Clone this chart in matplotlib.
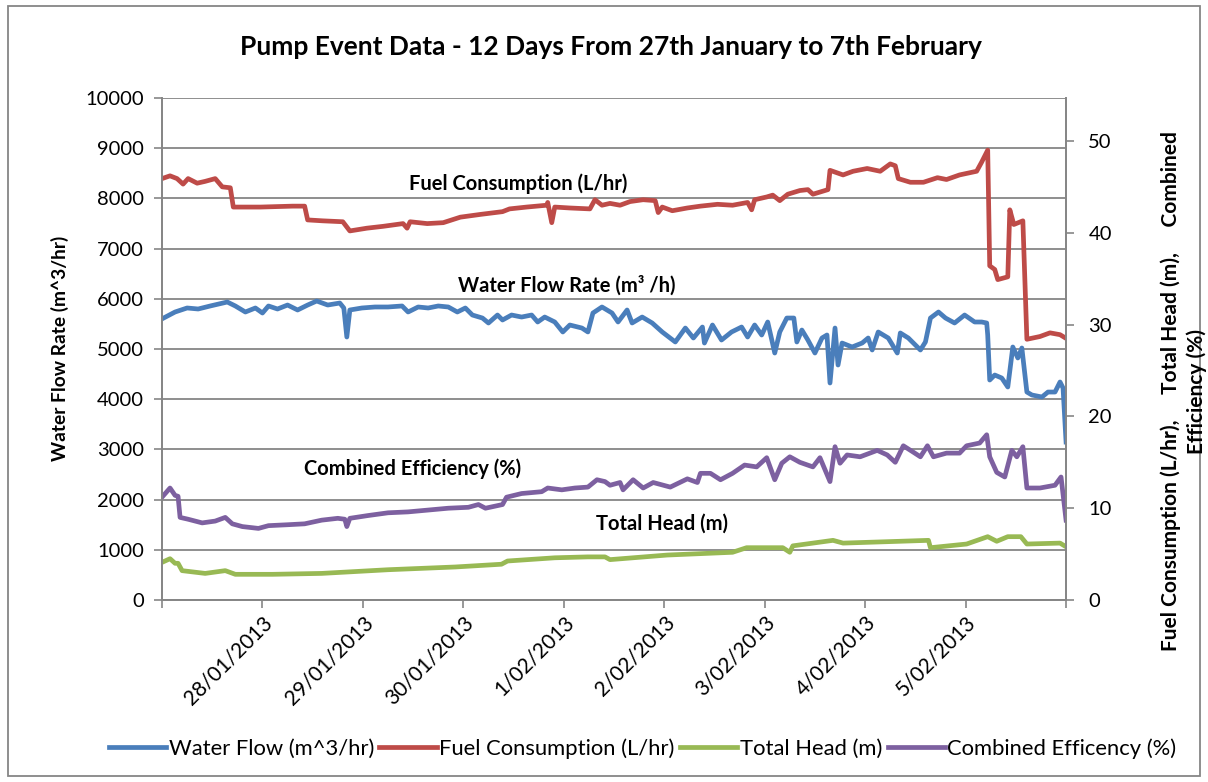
import matplotlib
matplotlib.use("Agg")
import matplotlib.pyplot as plt
from matplotlib.patches import Rectangle

plt.rcParams['font.family'] = ['Lato', 'DejaVu Sans']

# ---- data (x in days from 27/01/2013 on the category axis) ----
tick_labels = ['', '28/01/2013', '29/01/2013', '30/01/2013', '1/02/2013',
               '2/02/2013', '3/02/2013', '4/02/2013', '5/02/2013', '']

flow_x = [0.00, 0.13, 0.25, 0.36, 0.48, 0.65, 0.73, 0.83, 0.93, 1.00, 1.06, 1.15, 1.25, 1.35,
          1.45, 1.54, 1.65, 1.77, 1.81, 1.84, 1.87, 1.99, 2.12, 2.25, 2.39, 2.45, 2.55, 2.65,
          2.75, 2.85, 2.94, 3.02, 3.09, 3.19, 3.25, 3.34, 3.39, 3.48, 3.58, 3.68, 3.74, 3.81,
          3.91, 3.99, 4.06, 4.18, 4.24, 4.29, 4.38, 4.48, 4.54, 4.63, 4.68, 4.78, 4.88, 4.98,
          5.11, 5.21, 5.29, 5.38, 5.40, 5.48, 5.57, 5.67, 5.77, 5.83, 5.90, 5.97, 6.03, 6.10,
          6.15, 6.22, 6.29, 6.32, 6.37, 6.43, 6.50, 6.57, 6.62, 6.65, 6.70, 6.73, 6.77, 6.87,
          6.97, 7.03, 7.07, 7.13, 7.23, 7.32, 7.35, 7.43, 7.55, 7.60, 7.65, 7.73, 7.80, 7.89,
          7.99, 8.09, 8.16, 8.21, 8.22, 8.24, 8.29, 8.36, 8.42, 8.47, 8.52, 8.56, 8.61, 8.66,
          8.76, 8.82, 8.89, 8.94, 8.97, 9.00]
flow_y = [5600, 5737, 5817, 5797, 5857, 5936, 5857, 5737, 5817, 5717, 5857, 5797, 5876, 5777,
          5876, 5956, 5876, 5916, 5817, 5239, 5777, 5817, 5837, 5837, 5857, 5737, 5837, 5817,
          5857, 5837, 5737, 5817, 5677, 5617, 5518, 5677, 5578, 5677, 5637, 5677, 5538, 5637,
          5538, 5339, 5478, 5418, 5339, 5717, 5837, 5717, 5538, 5777, 5518, 5637, 5518, 5339,
          5140, 5418, 5219, 5438, 5119, 5478, 5179, 5339, 5438, 5239, 5478, 5279, 5538, 4920,
          5339, 5617, 5617, 5140, 5378, 5179, 4920, 5219, 5279, 4323, 5418, 4681, 5119, 5040,
          5119, 5219, 4980, 5339, 5219, 4920, 5319, 5219, 4980, 5140, 5617, 5737, 5617, 5518,
          5677, 5538, 5538, 5518, 5279, 4382, 4482, 4422, 4243, 5040, 4821, 5020, 4143, 4084,
          4044, 4143, 4143, 4343, 4223, 3147]

fuel_x = [0.00, 0.08, 0.15, 0.21, 0.26, 0.35, 0.43, 0.53, 0.60, 0.68, 0.71, 0.98, 1.30, 1.42,
          1.45, 1.60, 1.80, 1.87, 2.04, 2.20, 2.40, 2.44, 2.47, 2.64, 2.80, 2.97, 3.17, 3.39,
          3.46, 3.63, 3.83, 3.84, 3.88, 3.91, 4.06, 4.26, 4.31, 4.38, 4.46, 4.56, 4.66, 4.79,
          4.91, 4.94, 4.98, 5.08, 5.23, 5.36, 5.53, 5.68, 5.83, 5.87, 5.90, 6.02, 6.08, 6.15,
          6.23, 6.35, 6.43, 6.48, 6.63, 6.65, 6.78, 6.88, 7.02, 7.15, 7.25, 7.30, 7.33, 7.45,
          7.58, 7.72, 7.81, 7.94, 8.11, 8.16, 8.22, 8.24, 8.29, 8.32, 8.42, 8.44, 8.48, 8.57,
          8.61, 8.74, 8.84, 8.94, 9.00]
fuel_y = [45.9, 46.2, 45.9, 45.3, 45.9, 45.4, 45.6, 45.9, 45.0, 44.9, 42.8, 42.8, 42.9, 42.9,
          41.4, 41.3, 41.2, 40.2, 40.5, 40.7, 41.0, 40.5, 41.2, 41.0, 41.1, 41.7, 42.0, 42.3,
          42.6, 42.8, 43.0, 43.3, 41.1, 42.8, 42.7, 42.6, 43.6, 43.0, 43.2, 43.0, 43.4, 43.6,
          43.5, 42.2, 42.8, 42.4, 42.7, 42.9, 43.1, 43.0, 43.3, 42.5, 43.6, 43.9, 44.1, 43.5,
          44.2, 44.6, 44.7, 44.2, 44.7, 46.8, 46.3, 46.7, 47.0, 46.7, 47.5, 47.3, 45.9, 45.5,
          45.5, 46.0, 45.8, 46.3, 46.7, 47.7, 49.0, 36.4, 36.0, 34.9, 35.2, 42.5, 40.9, 41.3,
          28.4, 28.7, 29.1, 28.9, 28.5]

eff_x = [0.00, 0.08, 0.13, 0.16, 0.18, 0.26, 0.40, 0.53, 0.63, 0.70, 0.80, 0.96, 1.06, 1.25,
         1.42, 1.59, 1.75, 1.82, 1.84, 1.87, 2.05, 2.25, 2.45, 2.65, 2.85, 3.05, 3.15, 3.22,
         3.39, 3.43, 3.58, 3.78, 3.84, 3.98, 4.11, 4.24, 4.33, 4.41, 4.46, 4.56, 4.59, 4.69,
         4.79, 4.89, 5.06, 5.23, 5.33, 5.36, 5.46, 5.56, 5.68, 5.80, 5.92, 6.02, 6.10, 6.17,
         6.25, 6.35, 6.48, 6.55, 6.65, 6.70, 6.75, 6.82, 6.95, 7.12, 7.22, 7.30, 7.38, 7.48,
         7.55, 7.62, 7.68, 7.81, 7.94, 8.01, 8.14, 8.21, 8.24, 8.31, 8.39, 8.46, 8.51, 8.57,
         8.61, 8.74, 8.89, 8.95, 9.00]
eff_y = [11.2, 12.2, 11.4, 11.3, 9.0, 8.8, 8.4, 8.6, 9.0, 8.3, 8.0, 7.8, 8.1, 8.2,
         8.3, 8.7, 8.9, 8.8, 8.0, 8.9, 9.2, 9.5, 9.6, 9.8, 10.0, 10.1, 10.4, 10.0,
         10.4, 11.2, 11.6, 11.8, 12.2, 12.0, 12.2, 12.3, 13.1, 12.9, 12.5, 12.8, 12.0, 13.1,
         12.2, 12.8, 12.3, 13.2, 12.8, 13.8, 13.8, 13.1, 13.8, 14.7, 14.5, 15.5, 13.1, 14.9,
         15.6, 15.0, 14.5, 15.5, 12.9, 16.7, 14.9, 15.8, 15.6, 16.3, 15.8, 15.0, 16.8, 16.1,
         15.6, 16.8, 15.6, 16.0, 16.0, 16.8, 17.1, 18.0, 15.6, 13.9, 13.4, 16.3, 15.6, 16.7,
         12.2, 12.2, 12.5, 13.4, 8.7]

head_x = [0.00, 0.08, 0.13, 0.16, 0.20, 0.43, 0.63, 0.73, 1.10, 1.59, 2.25, 2.92, 3.38, 3.44,
          3.91, 4.24, 4.41, 4.46, 5.03, 5.68, 5.82, 6.18, 6.25, 6.28, 6.68, 6.78, 7.35, 7.63,
          7.65, 8.01, 8.22, 8.31, 8.42, 8.55, 8.61, 8.94, 9.00]
head_y = [4.1, 4.5, 4.0, 4.0, 3.2, 2.9, 3.2, 2.8, 2.8, 2.9, 3.3, 3.6, 3.9, 4.25,
          4.6, 4.7, 4.7, 4.4, 4.9, 5.2, 5.7, 5.7, 5.2, 5.9, 6.5, 6.2, 6.4, 6.5,
          5.7, 6.1, 6.9, 6.4, 6.9, 6.9, 6.1, 6.2, 5.8]

series_names = ['Water Flow (m^3/hr)', 'Fuel Consumption (L/hr)', 'Total Head (m)',
                'Combined Efficency (%)']
colors = ['#4A7EBB', '#BE4B48', '#98B954', '#7D60A0']

# ---- figure ----
fig = plt.figure(figsize=(12.08, 7.82), dpi=100)
ax = fig.add_axes([0.1341, 0.2327, 0.8825 - 0.1341, 0.8747 - 0.2327])
ax2 = ax.twinx()

lw = 3.4
gridc = '#868686'
l1, = ax.plot(flow_x, flow_y, color=colors[0], lw=lw, solid_joinstyle='round', zorder=3)
l2, = ax2.plot(fuel_x, fuel_y, color=colors[1], lw=lw, solid_joinstyle='round')
l3, = ax2.plot(head_x, head_y, color=colors[2], lw=lw, solid_joinstyle='round')
l4, = ax2.plot(eff_x, eff_y, color=colors[3], lw=lw, solid_joinstyle='round')

ax.set_xlim(0, 9)
ax.set_ylim(0, 10000)
ax2.set_ylim(0, 54.68)
ax.set_yticks(range(0, 10001, 1000))
ax2.set_yticks(range(0, 51, 10))
ax.set_xticks(range(0, 10))
ax.set_xticklabels(tick_labels, rotation=45, ha='right', rotation_mode='anchor', fontsize=15)
ax.tick_params(axis='x', length=6, color=gridc, width=1.2, pad=3)
ax.tick_params(axis='y', length=6, color=gridc, width=1.2, labelsize=14.5, pad=7)
ax2.tick_params(axis='y', length=6, color=gridc, width=1.2, labelsize=14.5, pad=10)
ax.grid(axis='y', color=gridc, lw=1.3)
ax.set_axisbelow(True)
for a in (ax, ax2):
    a.spines['top'].set_visible(False)
    for s in ('left', 'right', 'bottom'):
        a.spines[s].set_color(gridc)
        a.spines[s].set_linewidth(1.3)

fig.text(0.050, 0.555, 'Water Flow Rate (m^3/hr)', rotation=90, ha='center', va='center',
         fontsize=13.8, fontweight='bold')
fig.text(0.980, 0.50,
         'Fuel Consumption (L/hr),     Total Head (m),     Combined\nEfficiency (%)',
         rotation=90, ha='center', va='center', fontsize=15, fontweight='bold',
         multialignment='center', linespacing=1.3)

fig.text(0.506, 0.94, 'Pump Event Data - 12 Days From 27th January to 7th February',
         ha='center', va='center', fontsize=19, fontweight='bold')

ann = dict(fontsize=14.5, fontweight='bold', ha='center', va='center')
ax2.text(3.55, 45.3, 'Fuel Consumption (L/hr)', **ann)
ax2.text(4.03, 34.3, 'Water Flow Rate (m³ /h)', **ann)
ax2.text(2.49, 14.3, 'Combined Efficiency (%)', **ann)
ax2.text(4.98, 8.3, 'Total Head (m)', **ann)

fig.legend([l1, l2, l3, l4], series_names, loc='center', bbox_to_anchor=(0.532, 0.043),
           ncol=4, frameon=False, fontsize=15.8, handlelength=2.6, handletextpad=0.12,
           columnspacing=0.25)

fig.patches.append(Rectangle((0.007, 0.008), 0.986, 0.984, transform=fig.transFigure,
                             fill=False, edgecolor=gridc, lw=1.3))

fig.savefig('out.png', dpi=100)
